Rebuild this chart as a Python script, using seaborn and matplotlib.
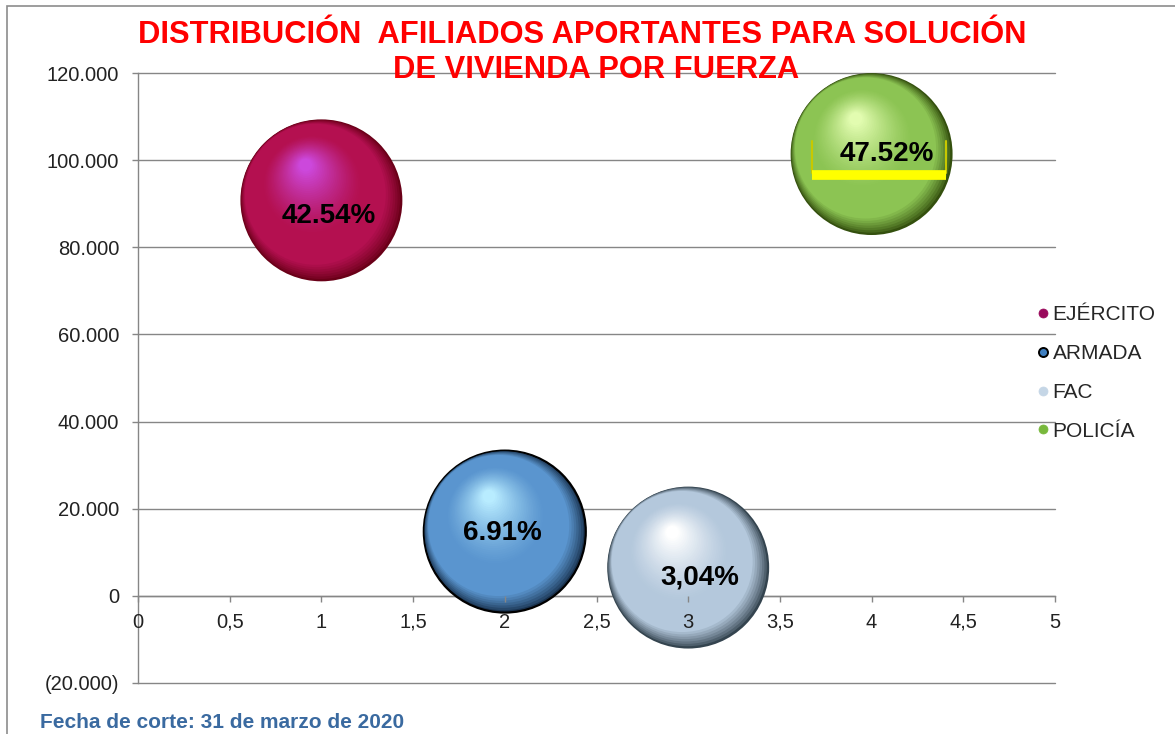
import numpy as np
import pandas as pd
import seaborn as sns
import matplotlib.pyplot as plt
from matplotlib.colors import to_rgb
from matplotlib.lines import Line2D
from matplotlib.patches import Rectangle
from matplotlib import transforms
from matplotlib.ticker import FuncFormatter, MultipleLocator

fuerzas = ["EJÉRCITO", "ARMADA", "FAC", "POLICÍA"]
posicion = [1, 2, 3, 4]
afiliados = [90770, 14750, 6490, 101400]
tamano = [1.0, 1.0, 1.0, 1.0]
etiquetas = ["42.54%", "6.91%", "3,04%", "47.52%"]

# edge / body / highlight colours for the 3D look
borde = ["#6a0018", "#1a3350", "#34444f", "#34500e"]
cuerpo = ["#b41050", "#5a95cf", "#b4c8dc", "#8cc453"]
brillo = ["#cc48dc", "#b8ecff", "#ffffff", "#e2fcb0"]
leyenda = ["#9a0a5c", "#3f7fc0", "#c5d6e6", "#78b83c"]

df = pd.DataFrame({"fuerza": fuerzas, "x": posicion, "y": afiliados, "tam": tamano})

sns.set_style("white")
plt.rcParams["font.family"] = ["Liberation Sans", "DejaVu Sans"]

fig = plt.figure(figsize=(11.75, 7.34), dpi=100)
ax = fig.add_axes([138 / 1175, 1 - 683 / 734, (1055 - 138) / 1175, (683 - 73) / 734])

R = 58.3  # bubble radius in points
s_max = (2 * R) ** 2

sns.scatterplot(data=df, x="x", y="y", hue="fuerza", palette=borde, size="tam",
                sizes=(s_max, s_max), linewidth=0, legend=False, ax=ax, zorder=3)
ax.collections[0].set_edgecolor(["none", "black", "none", "none"])
ax.collections[0].set_linewidth([0, 1.6, 0, 0])

# shaded layers: dark rim lower right, highlight upper left
n = 50
for k, t in enumerate(np.linspace(0.02, 1, n)):
    r = R * (1 - 0.92 * t)
    if t < 0.14:
        dx, dy = -0.075 * R * t / 0.14, 0.075 * R * t / 0.14
    else:
        u = (t - 0.14) / 0.86
        dx = -0.075 * R + (-0.12 * R) * u
        dy = 0.075 * R + (0.36 * R) * u
    off = transforms.offset_copy(ax.transData, fig=fig, x=dx, y=dy, units="points")
    cols = []
    for i in range(len(fuerzas)):
        e, b, h = np.array(to_rgb(borde[i])), np.array(to_rgb(cuerpo[i])), np.array(to_rgb(brillo[i]))
        if t < 0.14:
            c = e + (b - e) * (t / 0.14) ** 0.8
        elif t < 0.42:
            c = b
        else:
            u = (t - 0.42) / 0.58
            c = b + (h - b) * (u ** 1.3)
        cols.append(c)
    ax.scatter(df["x"], df["y"], s=(2 * r) ** 2, c=cols, linewidths=0,
               transform=off, zorder=3 + 0.01 * (k + 1))

# labels
desp = [(5, -11), (-2, -1), (8, -7), (11, 0)]
for i, txt in enumerate(etiquetas):
    ax.annotate(txt, (posicion[i], afiliados[i]), xytext=desp[i], textcoords="offset points",
                ha="center", va="center", fontsize=20, fontweight="bold", color="black",
                zorder=10)

# yellow bracket around POLICÍA label
tb = fig.dpi_scale_trans + transforms.ScaledTranslation(posicion[3], afiliados[3], ax.transData)
ax.add_line(Line2D([-0.60, -0.60], [0.13, -0.19], transform=tb, color="#c8c800", lw=1.5, zorder=9))
ax.add_line(Line2D([0.74, 0.74], [0.13, -0.19], transform=tb, color="#c8c800", lw=1.5, zorder=9))
ax.add_line(Line2D([-0.60, 0.74], [-0.21, -0.21], transform=tb, color="#ffff00", lw=7, zorder=9,
                   solid_capstyle="butt"))

ax.set_xlim(0, 5)
ax.set_ylim(-20000, 120000)
ax.xaxis.set_major_locator(MultipleLocator(0.5))
ax.yaxis.set_major_locator(MultipleLocator(20000))


def fmt_y(v, pos):
    if abs(v) < 1:
        return "0"
    s = f"{abs(v):,.0f}".replace(",", ".")
    return f"({s})" if v < 0 else s


ax.yaxis.set_major_formatter(FuncFormatter(fmt_y))
ax.xaxis.set_major_formatter(FuncFormatter(lambda v, p: f"{v:g}".replace(".", ",")))
ax.set_xlabel("")
ax.set_ylabel("")

gris = "#868686"
ax.grid(axis="y", color=gris, lw=1)
for gl in ax.get_ygridlines():
    gl.set_clip_on(False)
ax.spines["top"].set_visible(False)
ax.spines["right"].set_visible(False)
ax.spines["bottom"].set_position(("data", 0))
for sp in ["left", "bottom"]:
    ax.spines[sp].set_color(gris)
    ax.spines[sp].set_linewidth(1)
    ax.spines[sp].set_zorder(2)
ax.tick_params(axis="y", length=4.5, width=1, color=gris, pad=9, labelsize=14.5, labelcolor="#222222", left=True)
ax.tick_params(axis="x", length=4, width=1, color=gris, pad=8, labelsize=14.5, labelcolor="#222222", bottom=True)
ax.xaxis.set_zorder(12)

# legend
handles = []
for i, f in enumerate(fuerzas):
    handles.append(Line2D([], [], marker="o", linestyle="", markersize=6.5,
                          markerfacecolor=leyenda[i],
                          markeredgecolor="black" if i == 1 else leyenda[i],
                          markeredgewidth=1.4 if i == 1 else 0.5, label=f))
fig.legend(handles=handles, loc="center left", bbox_to_anchor=(1037 / 1175, 1 - 373 / 734),
           frameon=False, fontsize=15, handlelength=0.6, handletextpad=0.15, labelspacing=0.95,
           borderpad=0, borderaxespad=0)

# title and note
fig.text(582 / 1175, 1 - 35 / 734, "DISTRIBUCIÓN  AFILIADOS APORTANTES PARA SOLUCIÓN",
         ha="center", va="center", fontsize=22.2, fontweight="bold", color="#ff0000")
fig.text(596 / 1175, 1 - 70 / 734, "DE VIVIENDA POR FUERZA",
         ha="center", va="center", fontsize=22.2, fontweight="bold", color="#ff0000")
fig.text(40 / 1175, 1 - 722 / 734, "Fecha de corte: 31 de marzo de 2020",
         ha="left", va="center", fontsize=15, fontweight="bold", color="#3a6aa0")

fig.patches.append(Rectangle((7 / 1175, -0.1), 1.2, 1 - 6 / 734 + 0.1, transform=fig.transFigure,
                             fill=False, edgecolor="#8c8c8c", lw=1.2))

fig.savefig("out.png", dpi=100)
